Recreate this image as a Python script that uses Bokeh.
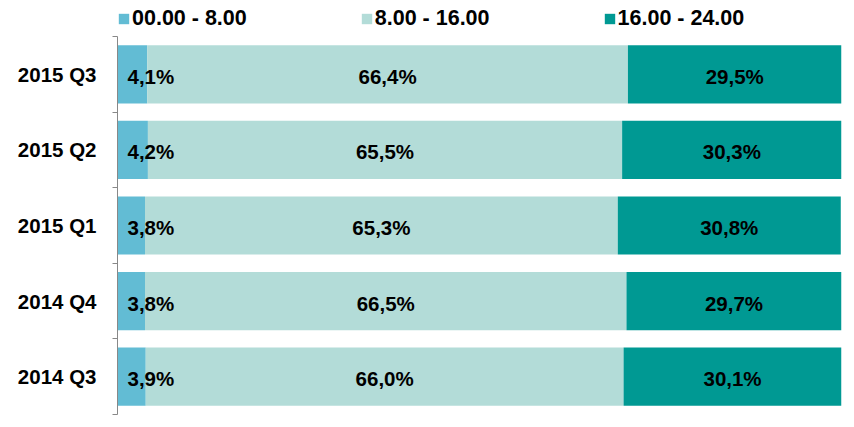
from bokeh.plotting import figure
from bokeh.models import ColumnDataSource, Range1d, FixedTicker, Legend, LegendItem, LinearAxis
from bokeh.core.properties import value
from bokeh.embed import file_html
from bokeh.resources import INLINE

categories = ["2015 Q3", "2015 Q2", "2015 Q1", "2014 Q4", "2014 Q3"]
series_names = ["00.00 - 8.00", "8.00 - 16.00", "16.00 - 24.00"]
night = [4.1, 4.2, 3.8, 3.8, 3.9]
day = [66.4, 65.5, 65.3, 66.5, 66.0]
evening = [29.5, 30.3, 30.8, 29.7, 30.1]
colors = ["#62BCD4", "#B3DCD8", "#009993"]
FONT = "Liberation Sans"

n = len(categories)
ypos = [n - i - 0.5 for i in range(n)]

def fmt(v):
    return f"{v:.1f}".replace(".", ",") + "%"

src = ColumnDataSource(dict(
    y=ypos, cat=categories, night=night, day=day, evening=evening,
))

H, BOTTOM, TOP_PAD = 427, 13, 36
frame_h = H - BOTTOM
band = (frame_h - TOP_PAD) / n
p = figure(width=854, height=H, output_backend="svg", toolbar_location=None,
           x_range=Range1d(0, 100), y_range=Range1d(0, n + TOP_PAD / band),
           x_axis_location=None, y_axis_location=None,
           min_border_left=117, min_border_right=13, min_border_top=0, min_border_bottom=BOTTOM)
p.outline_line_color = None
p.xgrid.visible = False
p.ygrid.visible = False
p.background_fill_color = "white"
p.border_fill_color = "white"

renderers = p.hbar_stack(["night", "day", "evening"], y="y", height=0.77, color=colors,
                         line_color=None, source=src)

# labels
lefts = [0.0] * n
for vals, k in zip([night, day, evening], range(3)):
    xs, txt = [], []
    for i, v in enumerate(vals):
        xs.append(lefts[i] if k == 0 else lefts[i] + v / 2)
        txt.append(fmt(v))
    lsrc = ColumnDataSource(dict(x=xs, y=ypos, t=txt))
    p.text(x="x", y="y", text="t", source=lsrc,
           text_font=value(FONT), text_font_style="bold", text_font_size="20.5px",
           text_color="black", text_baseline="middle",
           text_align="left" if k == 0 else "center",
           x_offset=10 if k == 0 else 0, y_offset=2)
    lefts = [lefts[i] + vals[i] for i in range(n)]

# y axis with category labels and boundary ticks
ax = LinearAxis(bounds=(0, n))
ax.ticker = FixedTicker(ticks=ypos, minor_ticks=list(range(n + 1)))
ax.major_label_overrides = {y: c for y, c in zip(ypos, categories)}
ax.major_tick_out = 0
ax.major_tick_in = 0
ax.minor_tick_out = 5
ax.minor_tick_in = 0
ax.minor_tick_line_color = "#888888"
ax.axis_line_color = "#888888"
ax.major_label_standoff = 16
ax.major_label_text_font = FONT
ax.major_label_text_font_style = "bold"
ax.major_label_text_font_size = "20.5px"
ax.major_label_text_color = "black"
p.add_layout(ax, "left")

legend = Legend(items=[LegendItem(label=s, renderers=[r]) for s, r in zip(series_names, renderers)],
                orientation="horizontal", location=(0, frame_h - 31),
                glyph_width=13, glyph_height=13, label_standoff=2, spacing=113,
                padding=0, margin=0, border_line_color=None, background_fill_alpha=0,
                label_text_font=FONT, label_text_font_style="bold",
                label_text_font_size="21.5px", label_text_color="black")
p.add_layout(legend, "center")

open("out.html", "w").write(file_html(p, INLINE))
